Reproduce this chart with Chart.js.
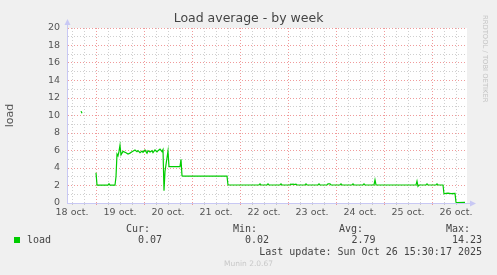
<!DOCTYPE html>
<html>
<head>
<meta charset="utf-8">
<script src="https://cdn.jsdelivr.net/npm/chart.js@4"></script>
<style>
  html, body { margin: 0; padding: 0; background: #f0f0f0; }
  canvas { display: block; }
</style>
</head>
<body>
<canvas id="myChart" width="497" height="275"></canvas>
<script>
// Data (x = hours since 18 oct. 00:00)
const hours = [16.5, 17.0, 17.5, 24.0, 24.5, 30.0, 30.5, 31.0, 33.5, 34.0, 34.5, 35.0, 35.5, 36.0, 36.5,
  37.5, 39.0, 40.0, 41.0, 42.0, 43.5, 44.5, 45.0, 46.0, 47.0, 47.5, 48.5, 49.5, 50.0, 51.0, 52.0, 52.5,
  53.5, 54.5, 55.0, 56.0, 57.0, 57.5, 58.0, 58.5, 60.0, 60.5, 66.0, 66.5, 67.0, 67.5, 89.5, 90.0,
  105.5, 106.0, 106.5, 109.5, 110.0, 110.5, 116.0, 116.5, 117.0, 121.0, 121.5, 122.0, 122.5, 123.0,
  124.0, 124.5, 128.5, 129.0, 129.5, 135.0, 135.5, 136.0, 139.5, 140.0, 141.0, 141.5, 146.0, 146.5,
  147.0, 152.0, 152.5, 153.0, 157.5, 158.0, 158.5, 163.0, 163.5, 164.0, 184.0, 184.5, 185.0, 185.5,
  189.0, 189.5, 190.0, 194.0, 194.5, 195.0, 197.5, 198.0, 199.0, 200.0, 201.5, 203.5, 204.0, 204.5, 208.5];
const load = [10.5, 10.25, null, 3.45, 2.05, 2.05, 2.2, 2.05, 2.05, 3.0, 5.6, 5.4, 5.9, 6.6, 5.5,
  5.9, 5.75, 5.6, 5.7, 5.85, 6.05, 5.87, 5.98, 5.75, 5.94, 5.8, 6.05, 5.7, 5.98, 5.83, 5.98, 5.75,
  6.06, 5.85, 5.98, 6.15, 5.87, 6.1, 1.4, 3.6, 5.95, 4.15, 4.15, 5.0, 3.1, 3.07, 3.07, 2.06,
  2.06, 2.18, 2.06, 2.06, 2.18, 2.06, 2.06, 2.18, 2.06, 2.06, 2.18, 2.1, 2.18, 2.1,
  2.16, 2.06, 2.06, 2.18, 2.06, 2.06, 2.18, 2.06, 2.06, 2.18, 2.18, 2.06, 2.06, 2.18,
  2.06, 2.06, 2.18, 2.06, 2.06, 2.18, 2.06, 2.06, 2.65, 2.06, 2.06, 2.5, 1.9, 2.06,
  2.06, 2.18, 2.06, 2.06, 2.18, 2.06, 2.06, 1.05, 1.1, 1.12, 1.08, 1.1, 0.08, 0.05, 0.07];
const dayLabels = ["18 oct.", "19 oct.", "20 oct.", "21 oct.", "22 oct.", "23 oct.", "24 oct.", "25 oct.", "26 oct."];
const yLabels = ["0", "2", "4", "6", "8", "10", "12", "14", "16", "18", "20"];
const legendHeads = ["Cur:", "Min:", "Avg:", "Max:"];
const legendValues = ["0.07", "0.02", "2.79", "14.23"];

const SANS = "'DejaVu Sans', sans-serif";
const MONO = "'DejaVu Sans Mono', monospace";
const MAJOR = "rgba(235,120,120,0.75)";
const MINOR = "rgba(175,175,175,0.6)";
const AXIS = "#c8c8f4";

// Munin / rrdtool decorations
const muninPlugin = {
  id: "munin",
  beforeDraw(chart) {
    const { ctx, chartArea: a } = chart;
    ctx.save();
    ctx.fillStyle = "#f0f0f0";
    ctx.fillRect(0, 0, chart.width, chart.height);
    ctx.fillStyle = "#ffffff";
    ctx.fillRect(a.left, a.top, a.right - a.left, a.bottom - a.top);
    ctx.restore();
  },
  afterDraw(chart) {
    const { ctx, chartArea: a } = chart;
    ctx.save();
    // axis arrows
    ctx.strokeStyle = AXIS;
    ctx.fillStyle = AXIS;
    ctx.lineWidth = 1;
    ctx.beginPath();
    ctx.moveTo(a.left + 0.5, a.top);
    ctx.lineTo(a.left + 0.5, a.top - 4);
    ctx.moveTo(a.right, a.bottom + 0.5);
    ctx.lineTo(a.right + 4, a.bottom + 0.5);
    ctx.stroke();
    ctx.beginPath();
    ctx.moveTo(a.left - 2.5, a.top - 3);
    ctx.lineTo(a.left + 3.5, a.top - 3);
    ctx.lineTo(a.left + 0.5, a.top - 9);
    ctx.closePath();
    ctx.fill();
    ctx.beginPath();
    ctx.moveTo(a.right + 3, a.bottom - 2.5);
    ctx.lineTo(a.right + 3, a.bottom + 3.5);
    ctx.lineTo(a.right + 9, a.bottom + 0.5);
    ctx.closePath();
    ctx.fill();

    // title
    ctx.fillStyle = "#444";
    ctx.font = "12.5px " + SANS;
    ctx.textAlign = "center";
    ctx.textBaseline = "middle";
    ctx.fillText("Load average - by week", 248.5, 19);

    // watermark
    ctx.save();
    ctx.translate(485, 15);
    ctx.rotate(Math.PI / 2);
    ctx.fillStyle = "#c4c4c4";
    ctx.font = "6.8px " + SANS;
    ctx.textAlign = "left";
    ctx.textBaseline = "middle";
    ctx.fillText("RRDTOOL / TOBI OETIKER", 0, 0);
    ctx.restore();

    // legend
    ctx.font = "10px " + MONO;
    ctx.fillStyle = "#444";
    ctx.textBaseline = "middle";
    ctx.textAlign = "right";
    const headX = [150, 257, 363, 470];
    const valX = [162, 269, 375.5, 482];
    legendHeads.forEach((t, i) => ctx.fillText(t, headX[i], 229));
    legendValues.forEach((t, i) => ctx.fillText(t, valX[i], 240.5));
    ctx.fillText("Last update: Sun Oct 26 15:30:17 2025", 482, 252);
    ctx.textAlign = "left";
    ctx.fillText("load", 27, 240.5);
    ctx.fillStyle = "#00cc00";
    ctx.fillRect(14, 237, 6, 6);

    ctx.fillStyle = "#c8c8c8";
    ctx.font = "7.5px " + SANS;
    ctx.textAlign = "center";
    ctx.fillText("Munin 2.0.67", 248.5, 264);
    ctx.restore();
  }
};

const loadConfig = {
  type: "line",
  data: {
    datasets: [
      {
        label: "load",
        data: hours.map((h, i) => ({ x: h, y: load[i] })),
        borderColor: "#00cc00",
        borderWidth: 1.2,
        pointRadius: 0,
        tension: 0,
        spanGaps: false
      }
    ]
  },
  options: {
    responsive: false,
    devicePixelRatio: 1,
    animation: false,
    layout: { padding: { left: 0, top: 28, right: 30, bottom: 0 } },
    plugins: {
      legend: { display: false },
      title: { display: false },
      tooltip: { enabled: false }
    },
    scales: {
      x: {
        type: "linear",
        min: 9.5,
        max: 209.5,
        afterBuildTicks(scale) {
          const t = [];
          for (let h = 12; h <= 204; h += 6) t.push({ value: h });
          scale.ticks = t;
        },
        afterFit(scale) { scale.height = 72; },
        ticks: {
          autoSkip: false,
          maxRotation: 0,
          padding: 2,
          color: "#555",
          font: { family: SANS, size: 9.5 },
          callback: (v) => ((v - 12) % 24 === 0 ? dayLabels[(v - 12) / 24] : "")
        },
        grid: {
          color: (c) => (c.tick && c.tick.value % 24 === 0 ? MAJOR : MINOR),
          tickLength: 2,
          drawTicks: true
        },
        border: { display: true, color: AXIS, width: 1, dash: [1, 2] }
      },
      y: {
        min: 0,
        max: 20,
        afterBuildTicks(scale) {
          const t = [];
          for (let v = 0; v <= 20; v++) t.push({ value: v });
          scale.ticks = t;
        },
        afterFit(scale) { scale.width = 67; },
        ticks: {
          autoSkip: false,
          padding: 7,
          color: "#555",
          font: { family: SANS, size: 9.5 },
          callback: (v) => (v % 2 === 0 ? yLabels[v / 2] : "")
        },
        grid: {
          color: (c) => (c.tick && c.tick.value % 2 === 0 ? MAJOR : MINOR),
          drawTicks: false
        },
        border: { display: true, color: AXIS, width: 1, dash: [1, 2] },
        title: {
          display: true,
          text: "load",
          color: "#555",
          font: { family: SANS, size: 11 },
          padding: { top: 4, bottom: 4 }
        }
      }
    }
  },
  plugins: [muninPlugin]
};

const ctx = document.getElementById("myChart").getContext("2d");
const myChart = new Chart(ctx, loadConfig);
</script>
</body>
</html>
